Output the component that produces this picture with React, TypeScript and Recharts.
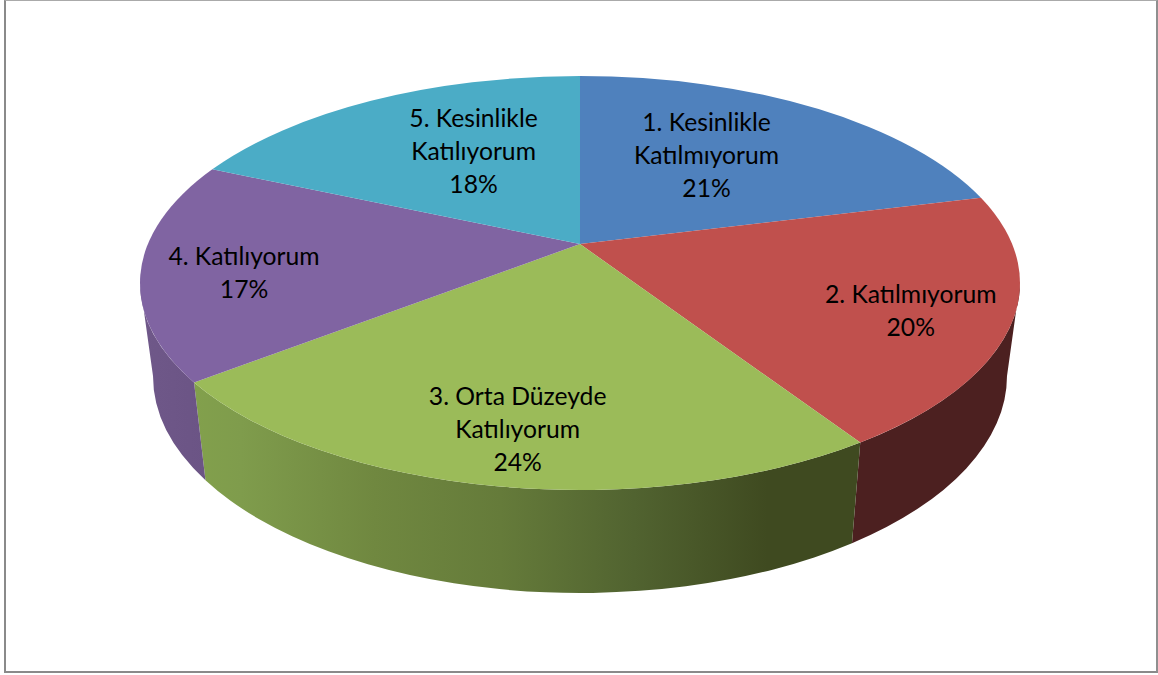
import { Pie, PieChart } from "recharts";

const categories = [
	"1. Kesinlikle Katılmıyorum",
	"2. Katılmıyorum",
	"3. Orta Düzeyde Katılıyorum",
	"4. Katılıyorum",
	"5. Kesinlikle Katılıyorum",
];
const shares = [21.1, 19.7, 23.7, 17.1, 18.4];

const TOP_COLORS = ["#4F81BD", "#C0504D", "#9BBB59", "#8064A2", "#4BACC6"];
// wall shading, left to right
const WALL_COLORS = [
	["#3a5a82", "#3a5a82"],
	["#4c2020", "#4c2020"],
	["#82a04c", "#7f9c4c", "#708840", "#657b3a", "#516330", "#3f4a20", "#3f4a20"],
	["#6f5889", "#6b5485"],
	["#2f7488", "#2f7488"],
];
const GREEN_OFFSETS = [0, 0.07, 0.27, 0.46, 0.66, 0.86, 1];
// nudges from the default spot inside each slice
const LABEL_NUDGE = [
	[-20, -1],
	[79, 22],
	[-14, 53],
	[-75, 15],
	[23, 0],
];

const WIDTH = 1158;
const HEIGHT = 675;
const CX = 580;
const CY = 283;
const RX = 440;
const RY = 207;
const BOTTOM_RX = 427;
const BOTTOM_RY = 217;
const BOTTOM_DROP = 93;
const TILT = 0.188; // how far the pie centre sits above the ellipse centre
const LINE_HEIGHT = 33;

const chartData = categories.map((name, i) => ({ name, value: shares[i] }));

// perspective map of a point on the flat disc onto the tilted ellipse
function project(angle: number, r = 1) {
	const rad = ((90 - angle) * Math.PI) / 180;
	const x = r * Math.sin(rad);
	const y = r * Math.cos(rad);
	const den = 1 + TILT * y;
	return {
		nx: (x * Math.sqrt(1 - TILT * TILT)) / den,
		ny: (y + TILT) / den,
	};
}

const topPt = (n: { nx: number; ny: number }) =>
	`${CX + n.nx * RX} ${CY - n.ny * RY}`;
const bottomPt = (n: { nx: number; ny: number }) =>
	`${CX + n.nx * BOTTOM_RX} ${CY + BOTTOM_DROP - n.ny * BOTTOM_RY}`;

function TopSlice(props: any) {
	const { startAngle, endAngle, index } = props;
	const apex = project(0, 0);
	const from = project(startAngle);
	const to = project(endAngle);
	const a1 = Math.atan2(from.ny, from.nx);
	let a2 = Math.atan2(to.ny, to.nx);
	if (a2 > a1) a2 -= Math.PI * 2;
	const large = a1 - a2 > Math.PI ? 1 : 0;
	return (
		<path
			d={`M${topPt(apex)} L${topPt(from)} A${RX} ${RY} 0 ${large} 1 ${topPt(to)} Z`}
			fill={TOP_COLORS[index]}
		/>
	);
}

function WallSlice(props: any) {
	const { startAngle, endAngle, index } = props;
	let from = project(startAngle);
	let to = project(endAngle);
	if (from.ny > 0 && to.ny > 0) return null;
	if (from.ny > 0) from = { nx: 1, ny: 0 };
	if (to.ny > 0) to = { nx: -1, ny: 0 };
	const stops = WALL_COLORS[index];
	const id = `wall-${index}`;
	return (
		<g>
			<defs>
				<linearGradient id={id} x1="0" y1="0" x2="1" y2="0">
					{stops.map((c, i) => (
						<stop
							key={i}
							offset={index === 2 ? GREEN_OFFSETS[i] : i / (stops.length - 1)}
							stopColor={c}
						/>
					))}
				</linearGradient>
			</defs>
			<path
				d={`M${topPt(from)} A${RX} ${RY} 0 0 1 ${topPt(to)} L${bottomPt(to)} A${BOTTOM_RX} ${BOTTOM_RY} 0 0 0 ${bottomPt(from)} Z`}
				fill={`url(#${id})`}
			/>
		</g>
	);
}

function splitName(name: string) {
	const words = name.split(" ");
	if (words.length <= 2) return [name];
	return [words.slice(0, -1).join(" "), words[words.length - 1]];
}

function SliceLabel(props: any) {
	const { midAngle, index } = props;
	const p = project(midAngle, 0.6);
	const x = CX + p.nx * RX + LABEL_NUDGE[index][0];
	const y = CY - p.ny * RY + LABEL_NUDGE[index][1];
	const lines = [
		...splitName(categories[index]),
		`${Math.round(shares[index])}%`,
	];
	const top = y - ((lines.length - 1) * LINE_HEIGHT) / 2 + 8;
	return (
		<text
			x={x}
			y={top}
			textAnchor="middle"
			fontFamily="Lato, sans-serif"
			fontSize={24.7}
			fill="#000"
		>
			{lines.map((line, i) => (
				<tspan key={line} x={x} y={top + i * LINE_HEIGHT}>
					{line}
				</tspan>
			))}
		</text>
	);
}

export default function App() {
	return (
		<div
			style={{
				position: "absolute",
				left: 0,
				top: 0,
				width: WIDTH,
				height: HEIGHT,
				background: "#fff",
				overflow: "hidden",
			}}
		>
			<div
				style={{
					position: "absolute",
					left: 4,
					top: 0,
					width: 1150,
					height: 670,
					borderLeft: "2px solid #8a8a8a",
					borderRight: "2px solid #8f8f8f",
					borderTop: "1px solid #aaaaaa",
					borderBottom: "2px solid #8a8a8a",
					boxSizing: "content-box",
				}}
			/>
			<div style={{ position: "absolute", left: 0, top: 0 }}>
				<PieChart
					width={WIDTH}
					height={HEIGHT}
					margin={{ top: 0, right: 0, bottom: 0, left: 0 }}
				>
					<Pie
						data={chartData}
						dataKey="value"
						nameKey="name"
						cx={CX}
						cy={CY}
						outerRadius={RX}
						startAngle={90}
						endAngle={-270}
						stroke="none"
						shape={WallSlice}
						isAnimationActive={false}
					/>
					<Pie
						data={chartData}
						dataKey="value"
						nameKey="name"
						cx={CX}
						cy={CY}
						outerRadius={RX}
						startAngle={90}
						endAngle={-270}
						stroke="none"
						shape={TopSlice}
						label={SliceLabel}
						labelLine={false}
						isAnimationActive={false}
					/>
				</PieChart>
			</div>
		</div>
	);
}
